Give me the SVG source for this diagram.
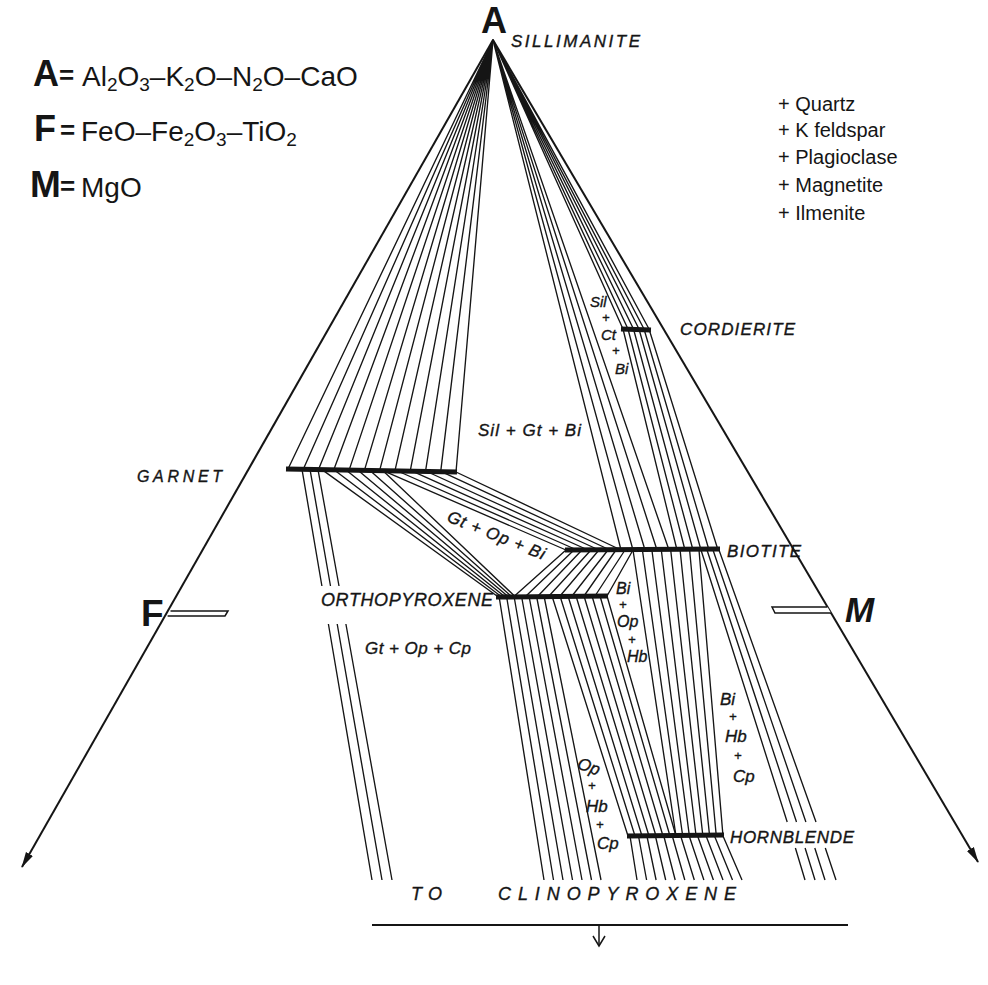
<svg xmlns="http://www.w3.org/2000/svg" width="988" height="985" viewBox="0 0 988 985">
<defs>
<style>
.tie{stroke:#151515;stroke-width:1.35;fill:none}
.axis{stroke:#151515;stroke-width:2;fill:none}
.bar{stroke:#151515;stroke-width:5;fill:none}
.lbl{font-family:"Liberation Sans",Arial,sans-serif;font-style:italic;fill:#151515;stroke:#151515;stroke-width:0.35}
.leg{font-family:"Liberation Sans",Arial,sans-serif;fill:#151515}
.big{font-family:"Liberation Sans",Arial,sans-serif;font-weight:bold;fill:#151515}
.pl{font-size:13px}
</style>
<marker id="arr" markerWidth="16" markerHeight="10" refX="15" refY="5" orient="auto" markerUnits="userSpaceOnUse">
<path d="M0,1 L16,5 L0,9 z" fill="#151515"/>
</marker>
</defs>
<rect width="988" height="985" fill="#fff"/>

<!-- legend -->
<g id="legend-left">
<text class="big" x="33" y="86" font-size="36">A</text>
<text class="big" x="59" y="84" font-size="26">=</text>
<text class="leg" x="82" y="86" font-size="28">Al<tspan font-size="19" dy="5">2</tspan><tspan dy="-5">O</tspan><tspan font-size="19" dy="5">3</tspan><tspan dy="-5">–K</tspan><tspan font-size="19" dy="5">2</tspan><tspan dy="-5">O–N</tspan><tspan font-size="19" dy="5">2</tspan><tspan dy="-5">O–CaO</tspan></text>
<text class="big" x="34" y="141" font-size="36">F</text>
<text class="big" x="60" y="139" font-size="26">=</text>
<text class="leg" x="81" y="141" font-size="28">FeO–Fe<tspan font-size="19" dy="5">2</tspan><tspan dy="-5">O</tspan><tspan font-size="19" dy="5">3</tspan><tspan dy="-5">–TiO</tspan><tspan font-size="19" dy="5">2</tspan></text>
<text class="big" x="30" y="197" font-size="37">M</text>
<text class="big" x="60" y="195" font-size="26">=</text>
<text class="leg" x="81" y="197" font-size="28">MgO</text>
</g>
<g id="legend-right" class="leg" font-size="20">
<text x="778" y="111">+ Quartz</text>
<text x="778" y="137">+ K feldspar</text>
<text x="778" y="164">+ Plagioclase</text>
<text x="778" y="192">+ Magnetite</text>
<text x="778" y="220">+ Ilmenite</text>
</g>

<!-- triangle sides -->
<g id="axes">
<line class="axis" x1="493" y1="40" x2="22" y2="867" marker-end="url(#arr)"/>
<line class="axis" x1="493" y1="40" x2="978" y2="862" marker-end="url(#arr)"/>
<path d="M170.5,611 L228,611 L225,616 L167.6,616" fill="#fff" stroke="#151515" stroke-width="1.5"/>
<path d="M827.5,607 L772,607 L775,613 L831,613" fill="#fff" stroke="#151515" stroke-width="1.5"/>
<text class="big" x="141" y="626" font-size="37">F</text>
<text class="big" x="845" y="622" font-size="35" font-style="italic">M</text>
</g>

<!-- tie lines -->
<g id="connectors" class="tie">
<!-- Sil - Garnet -->
<path d="M493,40 L288,469 M493,40 L303.3,469.3 M493,40 L318.5,469.6 M493,40 L333.8,469.8 M493,40 L349.1,470.1 M493,40 L364.4,470.4 M493,40 L379.6,470.6 M493,40 L394.9,470.9 M493,40 L410.2,471.2 M493,40 L425.5,471.4 M493,40 L440.7,471.7 M493,40 L456,472"/>
<!-- Sil - Biotite -->
<path d="M493,40 L621,550 M493,40 L633,550 M493,40 L645,550 M493,40 L657,550 M493,40 L669,550"/>
<!-- Sil - Cordierite -->
<path d="M493,40 L623,329 M493,40 L628,329 M493,40 L633.5,329 M493,40 L639,329 M493,40 L644,329 M493,40 L649,329"/>
<!-- Cordierite - Biotite -->
<path d="M623,329 L677,550 M628,329 L685,550 M633.5,329 L693,550 M639,329 L701,550 M644,329 L709,550 M649,329 L718,550"/>
<!-- Garnet - Biotite -->
<path d="M383,470.7 L566,550 M397.6,471 L577,550 M412.2,471.2 L588,550 M426.8,471.5 L599,550 M441.4,471.7 L610,550 M456,472 L621,550"/>
<!-- Garnet - Orthopyroxene -->
<path d="M322,469.6 L497,596 M334,469.8 L500.5,596 M346,470 L504,596 M358,470.3 L507.5,596 M370,470.5 L511,596 M383,470.7 L514.5,596"/>
<!-- Garnet - Clinopyroxene -->
<path d="M302,469.3 L321.9,586 M328.4,624 L372,880 M310,469.4 L330.5,586 M337.2,624 L382,880 M318,469.6 L339,586 M345.9,624 L392,880"/>
<!-- Orthopyroxene - Biotite -->
<path d="M514.5,596 L566,550 M526,596 L574,550 M538,596 L582,550 M549,596 L591,550 M560,596 L599,550 M572,596 L608,550 M584,596 L616,550 M595,596 L625,550 M607,596 L633,550"/>
<!-- Orthopyroxene - Clinopyroxene -->
<path d="M499,596 L544,880 M506.5,596 L553.5,880 M514,596 L563,880 M521.5,596 L572.5,880 M529,596 L582,880 M536.5,596 L591.5,880 M544,596 L601,880"/>
<!-- Orthopyroxene - Hornblende -->
<path d="M552,596 L628,836 M560,596 L635,836 M568,596 L642,836 M576,596 L649,836 M584,596 L656,836 M592,596 L663,836 M600,596 L670,836 M607,596 L676,836"/>
<!-- Biotite - Hornblende -->
<path d="M633,550 L676,836 M642.4,550 L682.7,836 M651.9,550 L689.4,836 M661.3,550 L696.1,836 M670.7,550 L702.9,836 M680.1,550 L709.6,836 M689.6,550 L716.3,836 M699,550 L723,836"/>
<!-- Biotite - Clinopyroxene -->
<path d="M701,550 L787.2,822 M795.4,848 L805,880 M707,550 L796.5,822 M805.1,848 L815,880 M713,550 L805.9,822 M814.8,848 L825,880 M719,550 L816,822 M825.3,848 L836,880"/>
<!-- Hornblende - Clinopyroxene -->
<path d="M630,836 L637,880 M638.5,836 L646.6,880 M646.9,836 L656.1,880 M655.4,836 L665.7,880 M663.8,836 L675.2,880 M672.3,836 L684.8,880 M680.7,836 L694.3,880 M689.2,836 L703.9,880 M697.6,836 L713.4,880 M706.1,836 L723,880 M714.5,836 L732.5,880 M723,836 L742,880"/>
</g>

<!-- phase nodes -->
<g id="node-sillimanite">
<text class="big" x="481" y="33" font-size="36">A</text>
<text class="lbl" x="511" y="47" font-size="17" textLength="129" lengthAdjust="spacing">SILLIMANITE</text>
</g>
<g id="node-garnet">
<line class="bar" x1="286" y1="469" x2="457" y2="472"/>
<text class="lbl" x="137" y="482" font-size="16" textLength="85" lengthAdjust="spacing">GARNET</text>
</g>
<g id="node-cordierite">
<line class="bar" x1="621" y1="329" x2="651" y2="330" stroke-width="4"/>
<text class="lbl" x="680" y="335" font-size="17" textLength="115" lengthAdjust="spacing">CORDIERITE</text>
</g>
<g id="node-biotite">
<line class="bar" x1="565" y1="550" x2="720" y2="549"/>
<text class="lbl" x="727" y="557" font-size="17" textLength="74" lengthAdjust="spacing">BIOTITE</text>
</g>
<g id="node-orthopyroxene">
<line class="bar" x1="496" y1="597" x2="608" y2="596"/>
<text class="lbl" x="321" y="606" font-size="18" textLength="172" lengthAdjust="spacing">ORTHOPYROXENE</text>
</g>
<g id="node-hornblende">
<line class="bar" x1="627" y1="836" x2="724" y2="835"/>
<text class="lbl" x="730" y="843" font-size="17" textLength="124" lengthAdjust="spacing">HORNBLENDE</text>
</g>
<g id="node-clinopyroxene">
<text class="lbl" x="411" y="900" font-size="18" textLength="31" lengthAdjust="spacing">TO</text>
<text class="lbl" x="498" y="900" font-size="18" textLength="238" lengthAdjust="spacing">CLINOPYROXENE</text>
<line x1="372" y1="925" x2="848" y2="925" stroke="#151515" stroke-width="2"/>
<line x1="599" y1="925" x2="599" y2="946" stroke="#151515" stroke-width="1.5"/>
<polyline points="593,936 599,946 605,936" fill="none" stroke="#151515" stroke-width="1.5"/>
</g>

<!-- assemblage field labels -->
<g id="fields" class="lbl" font-size="17">
<text x="478" y="436" textLength="103" lengthAdjust="spacing">Sil + Gt + Bi</text>
<text x="446" y="521" transform="rotate(22 446 521)" textLength="104" lengthAdjust="spacing">Gt + Op + Bi</text>
<text x="365" y="654" textLength="106" lengthAdjust="spacing">Gt + Op + Cp</text>
<g font-size="15">
<text x="590" y="307">Sil</text>
<text class="pl" x="602" y="322">+</text>
<text x="601" y="340">Ct</text>
<text class="pl" x="612" y="355">+</text>
<text x="615" y="374">Bi</text>
</g>
<g font-size="16">
<text x="616" y="594">Bi</text>
<text class="pl" x="619" y="609">+</text>
<text x="617" y="627">Op</text>
<text class="pl" x="628" y="644">+</text>
<text x="627" y="662">Hb</text>
</g>
<text x="720" y="705">Bi</text>
<text class="pl" x="729" y="721">+</text>
<text x="725" y="742">Hb</text>
<text class="pl" x="734" y="760">+</text>
<text x="733" y="782">Cp</text>
<text x="577" y="772" transform="rotate(20 588 768)">Op</text>
<text class="pl" x="588" y="790">+</text>
<text x="586" y="812">Hb</text>
<text class="pl" x="596" y="829">+</text>
<text x="597" y="849">Cp</text>
</g>
</svg>
